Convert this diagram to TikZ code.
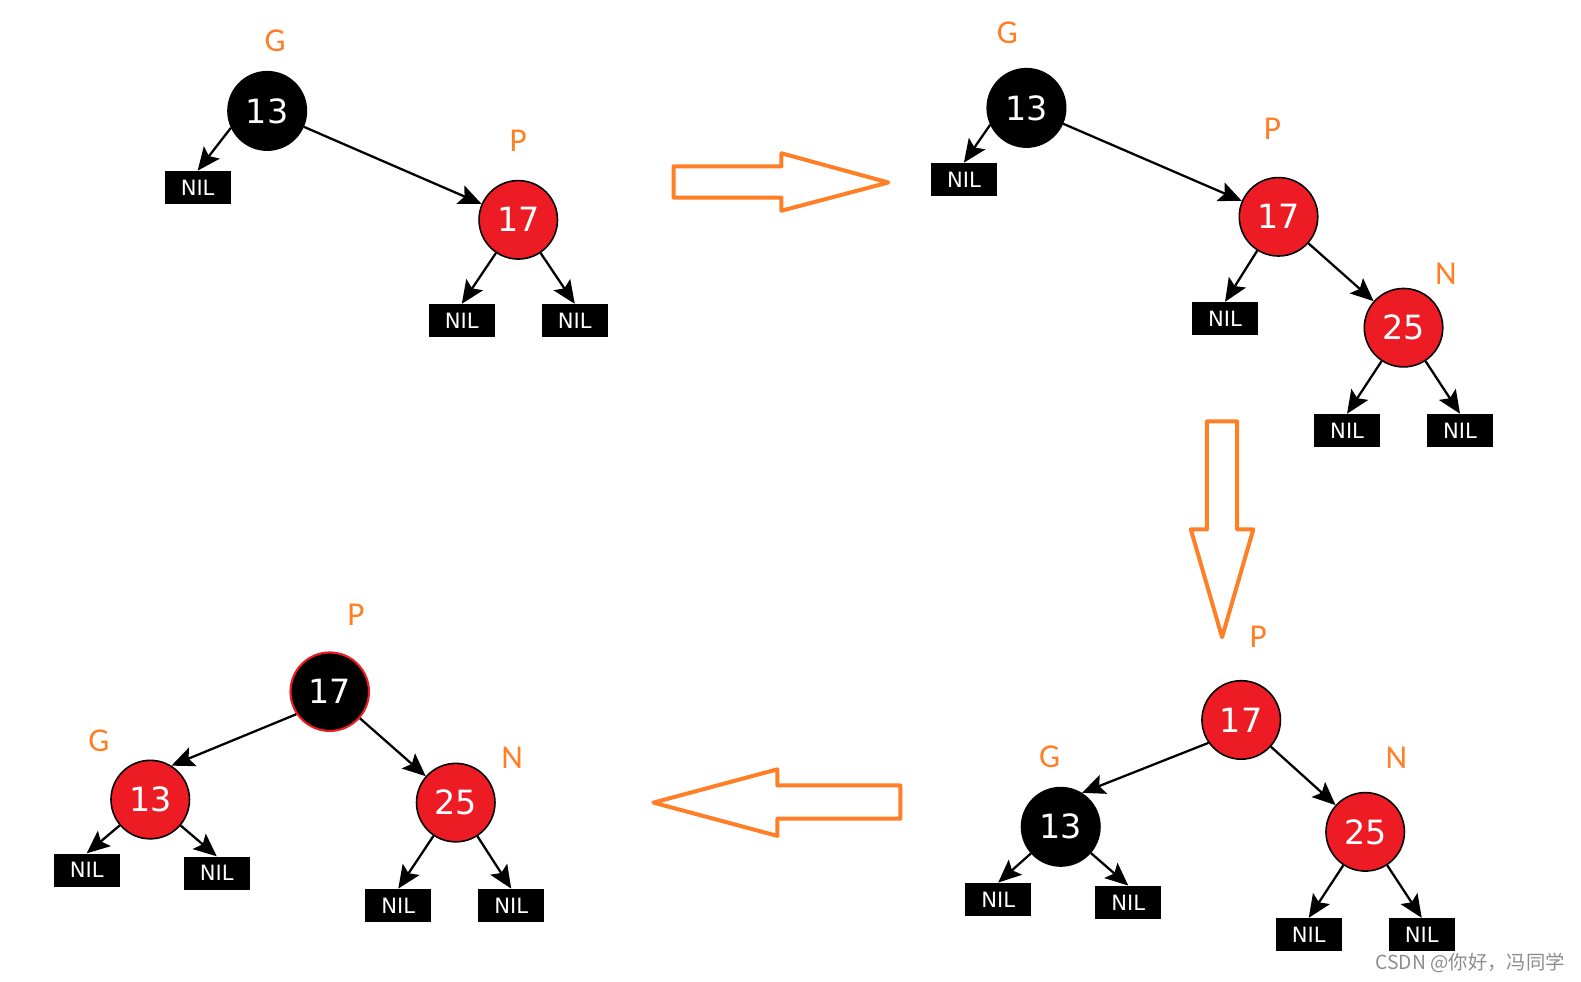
\documentclass[tikz,border=0pt]{standalone}
\usepackage{fontspec}
\setmainfont{DejaVu Sans}
\newfontfamily\lblfont{Carlito}
\newfontfamily\cjk{Noto Sans CJK SC}
\usepackage{tikz}
\usetikzlibrary{arrows.meta}
\definecolor{rbred}{RGB}{237,28,36}
\definecolor{rborange}{RGB}{255,127,39}

\begin{document}
\begin{tikzpicture}[x=0.020166cm, y=-0.020166cm,
  rb/.style={circle, draw=black, line width=0.9pt, minimum size=1.57cm, inner sep=0pt, text=white, font=\fontsize{19}{19}\selectfont},
  blk/.style={rb, fill=black},
  red/.style={rb, fill=rbred},
  nil/.style={rectangle, fill=black, text=white, minimum width=1.32cm, minimum height=0.66cm, inner sep=0pt, font=\fontsize{12}{12}\selectfont},
  lbl/.style={text=rborange, font=\lblfont\fontsize{19}{19}\selectfont},
  edge/.style={line width=1.3pt, -{Stealth[length=0.46cm, width=0.4cm, inset=0.09cm]}},
  hollow/.style={draw=rborange, line width=0.08cm, line join=round}]
\useasboundingbox (0,0) rectangle (1568,973);
\node[blk] (G1) at (265,110) {13};
\node[red] (P1) at (514,218) {17};
\node[nil] (G1-l) at (196,186) {NIL};
\node[nil] (P1-l) at (458,318) {NIL};
\node[nil] (P1-r) at (570,318) {NIL};
\node[lbl] (G1-t) at (273,40) {G};
\node[lbl] (P1-t) at (514,140) {P};
\draw[edge] (G1.205) -- (G1-l.north);
\draw[edge] (G1) -- (P1);
\draw[edge] (P1) -- (P1-l.north);
\draw[edge] (P1) -- (P1-r.north);

\draw[hollow] (668,165) -- (775,165) -- (775,152) -- (881,181) -- (775,209) -- (775,196) -- (668,196) -- cycle;

\node[blk] (G2) at (1018,107) {13};
\node[red] (P2) at (1268,215) {17};
\node[red] (N2) at (1392,325) {25};
\node[nil] (G2-l) at (956,178) {NIL};
\node[nil] (P2-l) at (1215,316) {NIL};
\node[nil] (N2-l) at (1336,427) {NIL};
\node[nil] (N2-r) at (1448,427) {NIL};
\node[lbl] (G2-t) at (999,33) {G};
\node[lbl] (P2-t) at (1262,128) {P};
\node[lbl] (N2-t) at (1434,272) {N};
\draw[edge] (G2.205) -- (G2-l.north);
\draw[edge] (G2) -- (P2);
\draw[edge] (P2) -- (P2-l.north);
\draw[edge] (P2) -- (N2);
\draw[edge] (N2) -- (N2-l.north);
\draw[edge] (N2) -- (N2-r.north);

\draw[hollow] (1197,418) -- (1227,418) -- (1227,525) -- (1243,525) -- (1212,632) -- (1181,525) -- (1197,525) -- cycle;

\node[red] (P3) at (1231,714) {17};
\node[blk] (G3) at (1052,820) {13};
\node[red] (N3) at (1354,825) {25};
\node[nil] (G3-l) at (990,892) {NIL};
\node[nil] (G3-r) at (1119,895) {NIL};
\node[nil] (N3-l) at (1298,927) {NIL};
\node[nil] (N3-r) at (1410,927) {NIL};
\node[lbl] (P3-t) at (1248,632) {P};
\node[lbl] (G3-t) at (1041,751) {G};
\node[lbl] (N3-t) at (1385,752) {N};
\draw[edge] (P3.215) -- (G3.58);
\draw[edge] (P3) -- (N3);
\draw[edge] (G3) -- (G3-l.north);
\draw[edge] (G3) -- (G3-r.north);
\draw[edge] (N3) -- (N3-l.north);
\draw[edge] (N3) -- (N3-r.north);

\draw[hollow] (893,779) -- (771,779) -- (771,763) -- (648,796) -- (771,829) -- (771,812) -- (893,812) -- cycle;

\node[blk, draw=rbred, line width=1.2pt] (P4) at (327,686) {17};
\node[red] (G4) at (149,793) {13};
\node[red] (N4) at (452,796) {25};
\node[nil] (G4-l) at (86,863) {NIL};
\node[nil] (G4-r) at (215,866) {NIL};
\node[nil] (N4-l) at (395,898) {NIL};
\node[nil] (N4-r) at (507,898) {NIL};
\node[lbl] (P4-t) at (353,610) {P};
\node[lbl] (G4-t) at (98,735) {G};
\node[lbl] (N4-t) at (508,752) {N};
\draw[edge] (P4.214) -- (G4.58);
\draw[edge] (P4) -- (N4);
\draw[edge] (G4) -- (G4-l.north);
\draw[edge] (G4) -- (G4-r.north);
\draw[edge] (N4) -- (N4-l.north);
\draw[edge] (N4) -- (N4-r.north);

\node[text=black!45, font=\cjk\fontsize{11}{11}\selectfont] (mark) at (1458,955) {CSDN @你好，冯同学};
\end{tikzpicture}
\end{document}
